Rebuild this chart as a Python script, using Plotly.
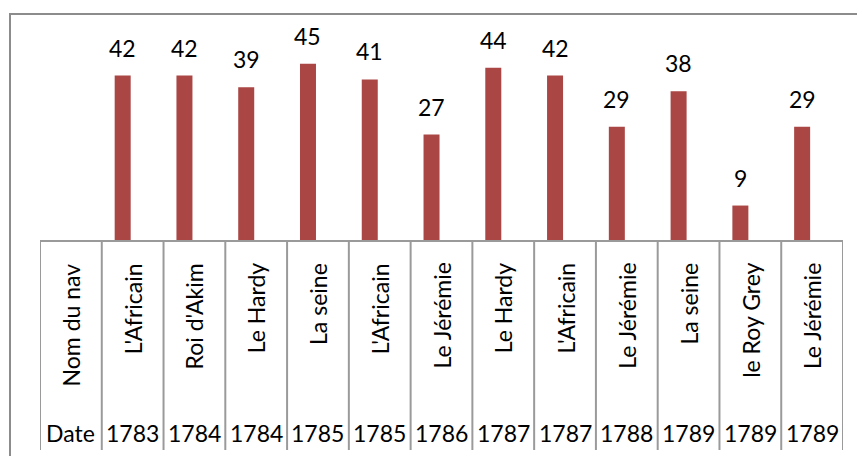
import plotly.graph_objects as go

# ---- data ----
header_name = "Nom du nav"
header_date = "Date"
ship_names = ["L'Africain", "Roi d'Akim", "Le Hardy", "La seine", "L'Africain", "Le Jérémie",
              "Le Hardy", "L'Africain", "Le Jérémie", "La seine", "le Roy Grey", "Le Jérémie"]
dates = ["1783", "1784", "1784", "1785", "1785", "1786", "1787", "1787", "1788", "1789", "1789", "1789"]
values = [42, 42, 39, 45, 41, 27, 44, 42, 29, 38, 9, 29]

W, H = 857, 456
FONT = "Lato"
FS = 23
BAR_COLOR = "#AA4643"
LINE_COLOR = "#9a9a9a"

n_cols = len(ship_names) + 1
x_pos = list(range(1, n_cols))

# pixel geometry helpers
def px_x(p):
    return p / W

def px_y(p):
    return (H - p) / H

base_px = 241
top_px = 44
fig = go.Figure()
fig.add_trace(go.Bar(
    x=x_pos, y=values,
    width=0.259, offset=-0.291,
    marker=dict(color=BAR_COLOR, line=dict(width=0)),
    hoverinfo="skip", showlegend=False,
))

annotations = []
# value labels
for xp, v in zip(x_pos, values):
    annotations.append(dict(x=xp - 0.162, y=v, xref="x", yref="y", text=str(v),
                            showarrow=False, yanchor="bottom", xanchor="center", yshift=12,
                            font=dict(family=FONT, size=FS, color="black")))
# rotated category labels
names_all = [header_name] + ship_names
dates_all = [header_date] + dates
for i, (nm, dt) in enumerate(zip(names_all, dates_all)):
    annotations.append(dict(x=i, y=px_y(261), xref="x", yref="paper", text=nm, textangle=-90,
                            showarrow=False, yanchor="top", xanchor="center",
                            font=dict(family=FONT, size=FS, color="black")))
    annotations.append(dict(x=i, y=px_y(433), xref="x", yref="paper", text=dt,
                            showarrow=False, yanchor="middle", xanchor="center",
                            font=dict(family=FONT, size=FS, color="black")))

shapes = []
# category axis line
shapes.append(dict(type="line", xref="x", yref="paper", x0=-0.5, x1=n_cols - 0.5,
                   y0=px_y(base_px), y1=px_y(base_px), line=dict(color=LINE_COLOR, width=2)))
# column separators
for k in range(n_cols + 1):
    shapes.append(dict(type="line", xref="x", yref="paper", x0=k - 0.5, x1=k - 0.5,
                       y0=px_y(base_px), y1=px_y(450), line=dict(color=LINE_COLOR, width=2)))
# outer chart border (left and top)
shapes.append(dict(type="line", xref="paper", yref="paper", x0=px_x(10), x1=px_x(10),
                   y0=0, y1=px_y(14), line=dict(color="#8c8c8c", width=2)))
shapes.append(dict(type="line", xref="paper", yref="paper", x0=px_x(9), x1=1.0,
                   y0=px_y(14), y1=px_y(14), line=dict(color="#8c8c8c", width=2)))

fig.update_layout(
    width=W, height=H,
    margin=dict(l=0, r=0, t=0, b=0),
    paper_bgcolor="white", plot_bgcolor="white",
    xaxis=dict(domain=[px_x(40), px_x(843)], range=[-0.5, n_cols - 0.5], fixedrange=True,
               showgrid=False, zeroline=False, showticklabels=False, showline=False, ticks=""),
    yaxis=dict(domain=[px_y(base_px), px_y(top_px)], range=[0, 50], fixedrange=True,
               showgrid=False, zeroline=False, showticklabels=False, showline=False, ticks=""),
    annotations=annotations,
    shapes=shapes,
    font=dict(family=FONT),
    hovermode=False,
)

fig.write_html("out.html", config={"displayModeBar": False, "staticPlot": True},
               post_script="document.body.style.margin='0px';document.body.style.overflow='hidden';")
